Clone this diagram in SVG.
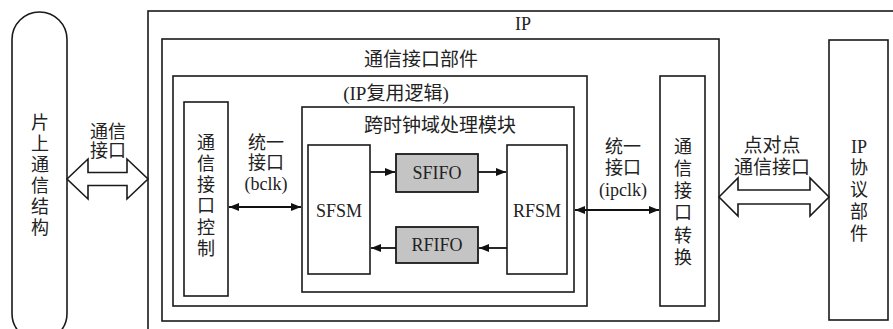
<svg xmlns="http://www.w3.org/2000/svg" width="893" height="329" viewBox="0 0 893 329">
<defs>
<style>
.box{fill:#fff;stroke:#1a1a1a;stroke-width:1.6}
.fifo{fill:#c4c4c4;stroke:#1a1a1a;stroke-width:1.8}
.t{font-family:"Liberation Serif","Noto Sans CJK SC",serif;fill:#222;text-anchor:middle;dominant-baseline:central}
.cn{font-size:18px}
.ttl{font-size:19px}
.lat{font-size:18px}
.ln{stroke:#111;stroke-width:1.8;fill:none}
.blk{fill:#fff;stroke:#1a1a1a;stroke-width:1.6;stroke-linejoin:miter}
</style>
<marker id="ah" viewBox="0 0 10 8" refX="10" refY="4" markerWidth="10" markerHeight="8" markerUnits="userSpaceOnUse" orient="auto-start-reverse">
<path d="M0,0 L10,4 L0,8 z" fill="#111"/>
</marker>
</defs>
<rect width="893" height="329" fill="#fff"/>

<g id="onchip">
<rect class="box" x="12" y="12" width="55" height="329" rx="27.5"/>
<text class="t cn"><tspan x="40" y="123">片</tspan><tspan x="40" y="144">上</tspan><tspan x="40" y="165">通</tspan><tspan x="40" y="186">信</tspan><tspan x="40" y="207">结</tspan><tspan x="40" y="228">构</tspan></text>
</g>

<g id="ip">
<rect class="box" x="148" y="11" width="800" height="400"/>
<text class="t lat" x="523" y="24">IP</text>
</g>

<g id="comm-part">
<rect class="box" x="162" y="39" width="557" height="282"/>
<text class="t ttl" x="421" y="59">通信接口部件</text>
</g>

<g id="reuse">
<rect class="box" x="173" y="76" width="414" height="230"/>
<text class="t ttl" x="396" y="93">(IP复用逻辑)</text>
</g>

<g id="ctrl">
<rect class="box" x="184" y="102" width="44" height="194"/>
<text class="t cn"><tspan x="206" y="143">通</tspan><tspan x="206" y="164">信</tspan><tspan x="206" y="185">接</tspan><tspan x="206" y="206">口</tspan><tspan x="206" y="228">控</tspan><tspan x="206" y="249">制</tspan></text>
</g>

<g id="cdc">
<rect class="box" x="302" y="107" width="272" height="185"/>
<text class="t ttl" x="440" y="125">跨时钟域处理模块</text>
</g>

<g id="sfsm">
<rect class="box" x="308" y="145" width="62" height="129"/>
<text class="t lat" x="339" y="211">SFSM</text>
</g>

<g id="rfsm">
<rect class="box" x="507" y="145" width="60" height="129"/>
<text class="t lat" x="537" y="211">RFSM</text>
</g>

<g id="sfifo">
<rect class="fifo" x="396" y="154" width="82" height="38"/>
<text class="t lat" x="437" y="173">SFIFO</text>
</g>

<g id="rfifo">
<rect class="fifo" x="396" y="227" width="82" height="36"/>
<text class="t lat" x="437" y="245">RFIFO</text>
</g>

<g id="conv">
<rect class="box" x="660" y="76" width="45" height="230"/>
<text class="t cn"><tspan x="683" y="147">通</tspan><tspan x="683" y="169">信</tspan><tspan x="683" y="191">接</tspan><tspan x="683" y="213">口</tspan><tspan x="683" y="236">转</tspan><tspan x="683" y="258">换</tspan></text>
</g>

<g id="protocol">
<rect class="box" x="829" y="40" width="59" height="280"/>
<text class="t lat" x="859" y="147">IP</text>
<text class="t cn"><tspan x="859" y="168">协</tspan><tspan x="859" y="190">议</tspan><tspan x="859" y="212">部</tspan><tspan x="859" y="234">件</tspan></text>
</g>

<g id="connectors">
<polygon class="blk" points="67,179 88,159 88,172.5 127,172.5 127,159 148,179 127,199 127,185.5 88,185.5 88,199"/>
<text class="t cn"><tspan x="108" y="132">通信</tspan><tspan x="108" y="151">接口</tspan></text>
<polygon class="blk" points="719,197 738,178 738,190 810,190 810,178 829,197 810,216 810,204 738,204 738,216"/>
<text class="t ttl"><tspan x="772" y="145">点对点</tspan><tspan x="772" y="167">通信接口</tspan></text>
<line class="ln" x1="229" y1="207" x2="301" y2="207" marker-start="url(#ah)" marker-end="url(#ah)"/>
<text class="t cn"><tspan x="266" y="143">统一</tspan><tspan x="266" y="163">接口</tspan></text>
<text class="t lat" x="266" y="184">(bclk)</text>
<line class="ln" x1="575" y1="210" x2="659" y2="210" marker-start="url(#ah)" marker-end="url(#ah)"/>
<text class="t cn"><tspan x="623" y="147">统一</tspan><tspan x="623" y="168">接口</tspan></text>
<text class="t lat" x="623" y="190">(ipclk)</text>
<line class="ln" x1="370" y1="172" x2="395" y2="172" marker-end="url(#ah)"/>
<line class="ln" x1="478" y1="172" x2="506" y2="172" marker-end="url(#ah)"/>
<line class="ln" x1="507" y1="248" x2="479" y2="248" marker-end="url(#ah)"/>
<line class="ln" x1="396" y1="248" x2="371" y2="248" marker-end="url(#ah)"/>
</g>
</svg>
